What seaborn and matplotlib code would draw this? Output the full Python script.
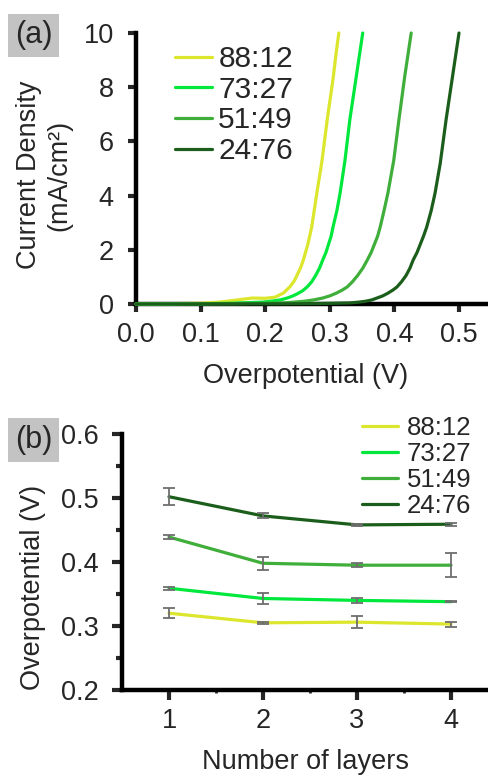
import numpy as np
import pandas as pd
import matplotlib
matplotlib.use("Agg")
import matplotlib.pyplot as plt
import seaborn as sns

# ---- data ----
ratios = ["88:12", "73:27", "51:49", "24:76"]
colors = ["#dbe62c", "#00e83c", "#3fae3a", "#1b5e1b"]

# (a) polarisation curves: overpotential (V) vs current density (mA/cm2)
v_8812 = [0, 0.05, 0.10, 0.13, 0.16, 0.18, 0.20, 0.215, 0.228, 0.238, 0.245, 0.25,
          0.255, 0.259, 0.266, 0.272, 0.280, 0.288, 0.296, 0.305, 0.310, 0.314]
j_8812 = [0, 0.01, 0.03, 0.07, 0.16, 0.22, 0.21, 0.25, 0.40, 0.63, 0.85, 1.1,
          1.35, 1.62, 2.2, 2.84, 4.1, 5.3, 6.8, 8.3, 9.3, 10.0]
v_7327 = [0, 0.10, 0.15, 0.197, 0.215, 0.225, 0.234, 0.242, 0.25, 0.258, 0.265,
          0.272, 0.278, 0.284, 0.289, 0.294, 0.298, 0.302, 0.305, 0.311, 0.316,
          0.3235, 0.331, 0.341, 0.351]
j_7327 = [0, 0.01, 0.03, 0.07, 0.12, 0.16, 0.22, 0.29, 0.38, 0.49, 0.63,
          0.82, 1.05, 1.32, 1.62, 1.9, 2.2, 2.5, 2.84, 3.45, 4.1,
          5.3, 6.8, 8.4, 10.0]
v_5149 = [0, 0.15, 0.228, 0.245, 0.26, 0.275, 0.289, 0.30, 0.31, 0.319, 0.327,
          0.335, 0.343, 0.351, 0.358, 0.364, 0.369, 0.374, 0.378, 0.384, 0.390,
          0.399, 0.407, 0.416, 0.426]
j_5149 = [0, 0.01, 0.04, 0.07, 0.10, 0.15, 0.22, 0.30, 0.40, 0.51, 0.63,
          0.82, 1.05, 1.32, 1.62, 1.9, 2.2, 2.5, 2.84, 3.45, 4.1,
          5.3, 6.8, 8.4, 10.0]
v_2476 = [0, 0.20, 0.28, 0.331, 0.345, 0.355, 0.365, 0.373, 0.382, 0.39, 0.398,
          0.404, 0.411, 0.418, 0.424, 0.429, 0.435, 0.440, 0.445, 0.450, 0.457,
          0.463, 0.471, 0.480, 0.490, 0.500]
j_2476 = [0, 0.005, 0.015, 0.04, 0.07, 0.10, 0.15, 0.22, 0.30, 0.40, 0.52,
          0.63, 0.82, 1.05, 1.32, 1.62, 1.9, 2.2, 2.5, 2.84, 3.45,
          4.1, 5.2, 6.8, 8.4, 10.0]

# (b) overpotential vs number of layers, with error bars
layers = [1, 2, 3, 4]
eta_8812 = [0.320, 0.305, 0.306, 0.303]
eta_7327 = [0.359, 0.343, 0.340, 0.338]
eta_5149 = [0.439, 0.398, 0.395, 0.395]
eta_2476 = [0.502, 0.472, 0.458, 0.459]
err_8812 = [0.008, 0.002, 0.009, 0.004]
err_7327 = [0.002, 0.009, 0.004, 0.0005]
err_5149 = [0.003, 0.010, 0.003, 0.019]
err_2476 = [0.013, 0.004, 0.001, 0.002]

curves = pd.concat([
    pd.DataFrame({"V": v, "J": j, "ratio": r})
    for v, j, r in zip([v_8812, v_7327, v_5149, v_2476],
                       [j_8812, j_7327, j_5149, j_2476], ratios)
])
layer_df = pd.concat([
    pd.DataFrame({"layers": layers, "eta": e, "err": s, "ratio": r})
    for e, s, r in zip([eta_8812, eta_7327, eta_5149, eta_2476],
                       [err_8812, err_7327, err_5149, err_2476], ratios)
])

sns.set_style("ticks")
plt.rcParams["font.family"] = ["Liberation Sans", "DejaVu Sans"]
palette = dict(zip(ratios, colors))

W, H = 489, 776
fig = plt.figure(figsize=(W / 100, H / 100), dpi=100)


def style_axes(ax):
    for s in ["top", "right"]:
        ax.spines[s].set_visible(False)
    for s in ["left", "bottom"]:
        ax.spines[s].set_linewidth(3.2)
        ax.spines[s].set_color("black")


# ---- panel (a) ----
ax1 = fig.add_axes([136 / W, 1 - 304 / H, (W - 136) / W, (304 - 33) / H])
sns.lineplot(data=curves, x="V", y="J", hue="ratio", hue_order=ratios,
             palette=palette, linewidth=2.3, sort=False, ax=ax1)
for ln in ax1.get_lines():
    ln.set_zorder(3)
    ln.set_clip_on(False)
ax1.set_xlim(0, (W - 136) / 646)
ax1.set_ylim(0, 10)
ax1.set_xticks([0.0, 0.1, 0.2, 0.3, 0.4, 0.5])
ax1.set_xticklabels(["0.0", "0.1", "0.2", "0.3", "0.4", "0.5"])
ax1.set_yticks([0, 2, 4, 6, 8, 10])
style_axes(ax1)
ax1.tick_params(axis="both", direction="out", length=6, width=3, labelsize=19.5)
ax1.tick_params(axis="y", pad=10)
ax1.tick_params(axis="x", pad=7)
ax1.set_xlabel("Overpotential (V)", fontsize=19.5, va="center")
ax1.xaxis.set_label_coords(0.479, -0.266)
ax1.set_ylabel("Current Density\n(mA/cm²)", fontsize=19.5, linespacing=1.2, va="center")
ax1.yaxis.set_label_coords(-0.26, 0.476)
h, l = ax1.get_legend_handles_labels()
ax1.legend(h, l, loc="upper left", bbox_to_anchor=(175 / W, 1 - 45 / H),
           bbox_transform=fig.transFigure, frameon=False, fontsize=21.5,
           borderpad=0, borderaxespad=0, labelspacing=0.09,
           handlelength=1.25, handletextpad=0.2)

# ---- panel (b) ----
ax2 = fig.add_axes([122 / W, 1 - 690 / H, (W - 122) / W, (690 - 434) / H])
sns.lineplot(data=layer_df, x="layers", y="eta", hue="ratio", hue_order=ratios,
             palette=palette, linewidth=2.3, ax=ax2)
ax2.errorbar(layer_df["layers"], layer_df["eta"], yerr=layer_df["err"], fmt="none",
             ecolor="#6e6e6e", elinewidth=1.3, capsize=4, capthick=1.3, zorder=3)
ax2.set_xlim(0.5, 4 + 38 / 94)
ax2.set_ylim(0.2, 0.6)
ax2.set_xticks(layers)
ax2.set_xticks([1.5, 2.5, 3.5], minor=True)
ax2.set_yticks([0.2, 0.3, 0.4, 0.5, 0.6])
ax2.set_yticklabels(["0.2", "0.3", "0.4", "0.5", "0.6"])
ax2.set_yticks([0.25, 0.35, 0.45, 0.55], minor=True)
style_axes(ax2)
ax2.tick_params(axis="both", which="major", direction="out", length=7, width=3, labelsize=19.5)
ax2.tick_params(axis="y", which="minor", direction="out", length=4, width=3)
ax2.tick_params(axis="x", which="minor", direction="out", length=2, width=2)
ax2.tick_params(axis="y", which="major", pad=10)
ax2.tick_params(axis="x", which="major", pad=6)
ax2.set_xlabel("Number of layers", fontsize=19.5, va="center")
ax2.xaxis.set_label_coords(0.499, -0.281)
ax2.set_ylabel("Overpotential (V)", fontsize=19.5, va="center")
ax2.yaxis.set_label_coords(-0.2425, 0.402)
h, l = ax2.get_legend_handles_labels()
ax2.legend(h, l, loc="upper left", bbox_to_anchor=(362 / W, 1 - 416 / H),
           bbox_transform=fig.transFigure, frameon=False, fontsize=18.5,
           borderpad=0, borderaxespad=0, labelspacing=0.08,
           handlelength=1.4, handletextpad=0.35)

# panel tags
for tag, cy in [("(a)", 35.5), ("(b)", 440)]:
    fig.text(33.5 / W, 1 - cy / H, tag, fontsize=22, ha="center", va="center",
             bbox=dict(boxstyle="square,pad=0.22", facecolor="#c3c3c3", edgecolor="none"))

fig.savefig("out.png", dpi=100)
